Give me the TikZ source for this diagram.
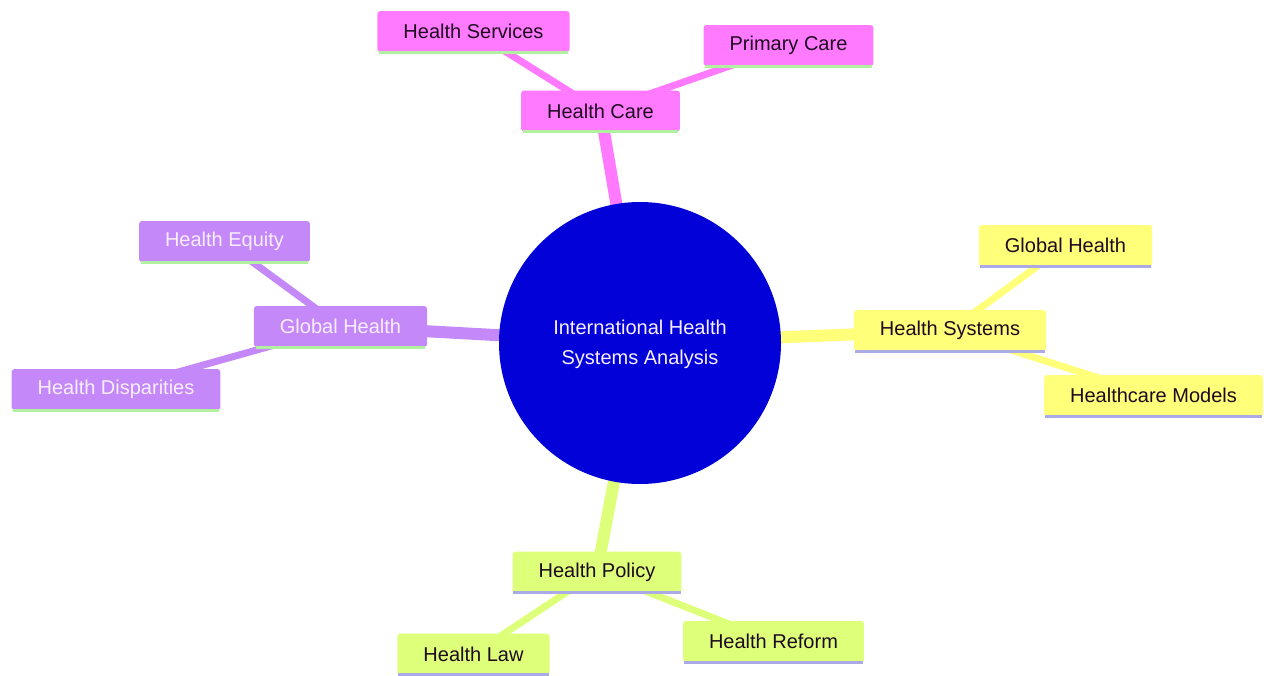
\documentclass[tikz,border=0pt]{standalone}
\usepackage{fontspec}
\setmainfont{Liberation Sans}
\usetikzlibrary{backgrounds}
\definecolor{cblue}{RGB}{2,2,216}
\definecolor{cpink}{RGB}{255,122,255}
\definecolor{cyel}{RGB}{255,255,122}
\definecolor{cpur}{RGB}{196,136,248}
\definecolor{cgrn}{RGB}{222,255,122}
\definecolor{lgrn}{RGB}{176,240,160}
\definecolor{lav}{RGB}{170,170,230}
\definecolor{dtext}{RGB}{30,10,30}
\definecolor{ltext}{RGB}{248,238,255}
\tikzset{
  box/.style={rectangle, rounded corners=3pt, minimum height=41pt, inner xsep=26pt, inner ysep=0pt,
    font=\fontsize{20}{24}\selectfont, text=dtext},
  pinkbox/.style={box, fill=cpink},
  yelbox/.style={box, fill=cyel},
  purbox/.style={box, fill=cpur, text=ltext},
  grnbox/.style={box, fill=cgrn},
  mainedge/.style={line width=12pt},
  subedge/.style={line width=7pt},
  underline/.style={line width=3pt}
}
\begin{document}
\begin{tikzpicture}[x=1pt,y=-1pt]
\useasboundingbox (0,0) rectangle (1264,675);
% root
\node[circle, fill=cblue, minimum size=282pt, inner sep=0pt, text=ltext, align=center,
  font=\fontsize{20}{30}\selectfont] (root) at (640,343) {\raisebox{-3pt}{\begin{tabular}{@{}c@{}}International Health\\Systems Analysis\end{tabular}}};
% health care branch
\node[pinkbox] (hc) at (600.5,111) {Health Care};
\node[pinkbox] (hs) at (473.5,31.5) {Health Services};
\node[pinkbox] (pc) at (788.5,45.5) {Primary Care};
% health systems branch
\node[yelbox] (hsys) at (950,330.5) {Health Systems};
\node[yelbox] (ghr) at (1065.5,245.5) {Global Health};
\node[yelbox] (hm) at (1153.5,395.5) {Healthcare Models};
% global health branch
\node[purbox] (ghl) at (340.5,326.5) {Global Health};
\node[purbox] (he) at (224.5,241.5) {Health Equity};
\node[purbox] (hd) at (116,389.5) {Health Disparities};
% health policy branch
\node[grnbox] (hp) at (597,572) {Health Policy};
\node[grnbox] (hl) at (473.5,654) {Health Law};
\node[grnbox] (hr) at (773.5,641.5) {Health Reform};
% underlines
\foreach \n in {hc,hs,pc,ghl,he,hd}
  \draw[underline, lgrn] ([xshift=2pt]\n.south west) -- ([xshift=-2pt]\n.south east);
\foreach \n in {hsys,ghr,hm,hp,hl,hr}
  \draw[underline, lav] ([xshift=1pt]\n.south west) -- ([xshift=-1pt]\n.south east);
\begin{pgfonlayer}{background}
\fill[white] (0,0) rectangle (1264,675);
\draw[mainedge, cpink] (root.center) -- (hc.center);
\draw[subedge, cpink] (hc.center) -- (hs.center);
\draw[subedge, cpink] (hc.center) -- (pc.center);
\draw[mainedge, cyel] (root.center) -- (hsys.center);
\draw[subedge, cyel] (hsys.center) -- (ghr.center);
\draw[subedge, cyel] (hsys.center) -- (hm.center);
\draw[mainedge, cpur] (root.center) -- (ghl.center);
\draw[subedge, cpur] (ghl.center) -- (he.center);
\draw[subedge, cpur] (ghl.center) -- (hd.center);
\draw[mainedge, cgrn] (root.center) -- (hp.center);
\draw[subedge, cgrn] (hp.center) -- (hl.center);
\draw[subedge, cgrn] (hp.center) -- (hr.center);
\end{pgfonlayer}
\end{tikzpicture}
\end{document}
